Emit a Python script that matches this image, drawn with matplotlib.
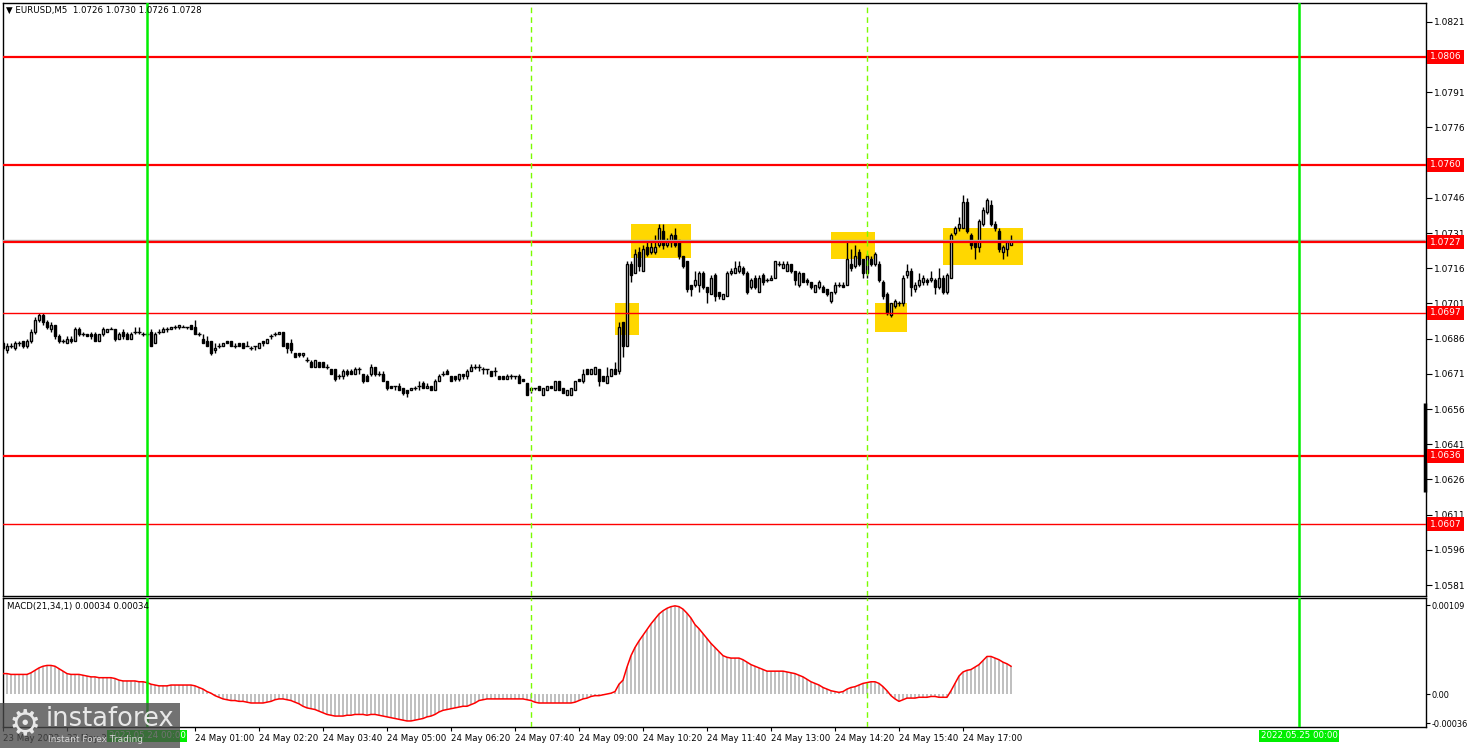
import matplotlib
matplotlib.use("Agg")
import matplotlib.pyplot as plt
from matplotlib.patches import Rectangle
from matplotlib.transforms import blended_transform_factory
import numpy as np

# ---------------- data (bar index 0 = 2022.05.24 00:00, M5 bars) ----------------
first_bar = -36
opens = [
    1.0684, 1.0681, 1.0683, 1.0682, 1.0684, 1.0685, 1.0683, 1.0685, 1.0689, 1.0694,
    1.0696, 1.0693, 1.0690, 1.0692, 1.0687, 1.0685, 1.0684, 1.0686, 1.0685, 1.0690,
    1.0688, 1.0688, 1.0688, 1.0688, 1.0685, 1.0688, 1.0689, 1.0690, 1.0690, 1.0686,
    1.0689, 1.0688, 1.0686, 1.0689, 1.0689, 1.0688, 1.0688, 1.0689, 1.0684, 1.0689,
    1.0689, 1.0690, 1.0690, 1.0691, 1.0691, 1.0691, 1.0691, 1.0692, 1.0691, 1.0688,
    1.0686, 1.0685, 1.0685, 1.0681, 1.0683, 1.0683, 1.0685, 1.0685, 1.0683, 1.0684,
    1.0684, 1.0683, 1.0682, 1.0683, 1.0682, 1.0685, 1.0684, 1.0687, 1.0688, 1.0688,
    1.0689, 1.0684, 1.0684, 1.0680, 1.0680, 1.0679, 1.0677, 1.0676, 1.0674, 1.0676,
    1.0676, 1.0674, 1.0673, 1.0673, 1.0670, 1.0670, 1.0672, 1.0672, 1.0671, 1.0673,
    1.0671, 1.0670, 1.0671, 1.0674, 1.0671, 1.0671, 1.0668, 1.0666, 1.0666, 1.0666,
    1.0665, 1.0664, 1.0664, 1.0665, 1.0666, 1.0667, 1.0665, 1.0666, 1.0664, 1.0668,
    1.0671, 1.0672, 1.0670, 1.0670, 1.0669, 1.0671, 1.0670, 1.0672, 1.0674, 1.0674,
    1.0673, 1.0673, 1.0672, 1.0672, 1.0670, 1.0670, 1.0669, 1.0670, 1.0670, 1.0670,
    1.0669, 1.0667, 1.0664, 1.0665, 1.0666, 1.0662, 1.0664, 1.0666, 1.0664, 1.0668,
    1.0665, 1.0662, 1.0662, 1.0664, 1.0669, 1.0668, 1.0673, 1.0671, 1.0671, 1.0673,
    1.0670, 1.0667, 1.0670, 1.0673, 1.0672, 1.0693, 1.0683, 1.0718, 1.0714, 1.0723,
    1.0715, 1.0725, 1.0723, 1.0723, 1.0726, 1.0732, 1.0726, 1.0727, 1.0730, 1.0728,
    1.0721, 1.0719, 1.0709, 1.0709, 1.0709, 1.0714, 1.0708, 1.0705, 1.0713, 1.0706,
    1.0703, 1.0704, 1.0714, 1.0714, 1.0715, 1.0716, 1.0714, 1.0708, 1.0712, 1.0706,
    1.0713, 1.0711, 1.0711, 1.0712, 1.0718, 1.0716, 1.0715, 1.0718, 1.0715, 1.0709,
    1.0714, 1.0711, 1.0710, 1.0706, 1.0708, 1.0708, 1.0707, 1.0702, 1.0706, 1.0709,
    1.0709, 1.0709, 1.0718, 1.0717, 1.0723, 1.0720, 1.0714, 1.0720, 1.0718, 1.0718,
    1.0710, 1.0705, 1.0696, 1.0700, 1.0701, 1.0701, 1.0713, 1.0715, 1.0707, 1.0709,
    1.0710, 1.0711, 1.0711, 1.0711, 1.0708, 1.0712, 1.0706, 1.0712, 1.0731, 1.0733,
    1.0733, 1.0744, 1.0730, 1.0727, 1.0725, 1.0735, 1.0740, 1.0743, 1.0735, 1.0732,
    1.0723, 1.0724, 1.0726,
]
highs = [
    1.0685, 1.0684, 1.0684, 1.0685, 1.0685, 1.0685, 1.0686, 1.0690, 1.0695, 1.0697,
    1.0697, 1.0694, 1.0693, 1.0692, 1.0688, 1.0686, 1.0687, 1.0687, 1.0691, 1.0691,
    1.0689, 1.0688, 1.0689, 1.0689, 1.0688, 1.0691, 1.0690, 1.0691, 1.0690, 1.0689,
    1.0690, 1.0689, 1.0689, 1.0691, 1.0691, 1.0689, 1.0689, 1.0690, 1.0689, 1.0690,
    1.0691, 1.0691, 1.0691, 1.0692, 1.0692, 1.0692, 1.0691, 1.0692, 1.0694, 1.0689,
    1.0688, 1.0687, 1.0685, 1.0684, 1.0684, 1.0684, 1.0685, 1.0685, 1.0684, 1.0684,
    1.0684, 1.0685, 1.0683, 1.0683, 1.0684, 1.0685, 1.0686, 1.0688, 1.0689, 1.0689,
    1.0689, 1.0684, 1.0686, 1.0680, 1.0680, 1.0680, 1.0678, 1.0677, 1.0677, 1.0676,
    1.0676, 1.0675, 1.0673, 1.0673, 1.0671, 1.0673, 1.0673, 1.0673, 1.0674, 1.0674,
    1.0671, 1.0671, 1.0675, 1.0674, 1.0672, 1.0672, 1.0668, 1.0666, 1.0666, 1.0667,
    1.0665, 1.0664, 1.0665, 1.0666, 1.0668, 1.0668, 1.0667, 1.0666, 1.0669, 1.0671,
    1.0672, 1.0673, 1.0670, 1.0670, 1.0671, 1.0671, 1.0673, 1.0675, 1.0675, 1.0675,
    1.0674, 1.0673, 1.0672, 1.0674, 1.0670, 1.0670, 1.0671, 1.0671, 1.0670, 1.0671,
    1.0669, 1.0667, 1.0665, 1.0665, 1.0666, 1.0665, 1.0666, 1.0666, 1.0668, 1.0668,
    1.0665, 1.0664, 1.0665, 1.0668, 1.0669, 1.0673, 1.0673, 1.0673, 1.0674, 1.0673,
    1.0670, 1.0674, 1.0673, 1.0676, 1.0693, 1.0693, 1.0719, 1.0719, 1.0724, 1.0725,
    1.0726, 1.0727, 1.0728, 1.0730, 1.0735, 1.0735, 1.0729, 1.0731, 1.0733, 1.0728,
    1.0721, 1.0719, 1.0709, 1.0715, 1.0715, 1.0715, 1.0708, 1.0713, 1.0714, 1.0706,
    1.0705, 1.0715, 1.0716, 1.0719, 1.0719, 1.0717, 1.0715, 1.0712, 1.0713, 1.0713,
    1.0714, 1.0712, 1.0713, 1.0719, 1.0719, 1.0719, 1.0719, 1.0718, 1.0715, 1.0715,
    1.0714, 1.0712, 1.0710, 1.0709, 1.0711, 1.0709, 1.0707, 1.0706, 1.0710, 1.0710,
    1.0710, 1.0728, 1.0724, 1.0726, 1.0724, 1.0720, 1.0722, 1.0721, 1.0723, 1.0719,
    1.0711, 1.0706, 1.0701, 1.0703, 1.0702, 1.0713, 1.0718, 1.0716, 1.0710, 1.0714,
    1.0713, 1.0712, 1.0715, 1.0712, 1.0716, 1.0713, 1.0714, 1.0731, 1.0734, 1.0738,
    1.0747, 1.0746, 1.0731, 1.0728, 1.0737, 1.0742, 1.0746, 1.0745, 1.0736, 1.0733,
    1.0726, 1.0728, 1.0730,
]
lows = [
    1.0681, 1.0680, 1.0682, 1.0681, 1.0683, 1.0682, 1.0682, 1.0684, 1.0688, 1.0693,
    1.0692, 1.0690, 1.0689, 1.0686, 1.0684, 1.0684, 1.0684, 1.0684, 1.0685, 1.0687,
    1.0687, 1.0687, 1.0686, 1.0685, 1.0685, 1.0687, 1.0689, 1.0690, 1.0685, 1.0686,
    1.0686, 1.0686, 1.0686, 1.0688, 1.0688, 1.0687, 1.0687, 1.0683, 1.0684, 1.0688,
    1.0689, 1.0689, 1.0690, 1.0690, 1.0690, 1.0691, 1.0690, 1.0690, 1.0688, 1.0687,
    1.0684, 1.0683, 1.0679, 1.0680, 1.0682, 1.0683, 1.0684, 1.0683, 1.0682, 1.0683,
    1.0682, 1.0683, 1.0681, 1.0681, 1.0682, 1.0683, 1.0684, 1.0686, 1.0687, 1.0688,
    1.0683, 1.0680, 1.0680, 1.0678, 1.0678, 1.0678, 1.0676, 1.0674, 1.0674, 1.0674,
    1.0674, 1.0673, 1.0671, 1.0668, 1.0669, 1.0669, 1.0670, 1.0671, 1.0671, 1.0671,
    1.0667, 1.0668, 1.0670, 1.0670, 1.0670, 1.0668, 1.0664, 1.0665, 1.0664, 1.0664,
    1.0662, 1.0661, 1.0664, 1.0664, 1.0664, 1.0665, 1.0665, 1.0664, 1.0664, 1.0668,
    1.0670, 1.0671, 1.0668, 1.0668, 1.0668, 1.0669, 1.0669, 1.0672, 1.0673, 1.0672,
    1.0671, 1.0671, 1.0670, 1.0670, 1.0669, 1.0669, 1.0669, 1.0669, 1.0669, 1.0667,
    1.0668, 1.0662, 1.0663, 1.0664, 1.0664, 1.0662, 1.0664, 1.0665, 1.0664, 1.0664,
    1.0663, 1.0662, 1.0662, 1.0664, 1.0668, 1.0667, 1.0671, 1.0671, 1.0671, 1.0666,
    1.0668, 1.0667, 1.0670, 1.0671, 1.0671, 1.0678, 1.0683, 1.0710, 1.0714, 1.0715,
    1.0715, 1.0721, 1.0722, 1.0722, 1.0725, 1.0724, 1.0725, 1.0725, 1.0725, 1.0720,
    1.0716, 1.0706, 1.0704, 1.0708, 1.0706, 1.0707, 1.0701, 1.0705, 1.0702, 1.0703,
    1.0703, 1.0704, 1.0713, 1.0714, 1.0714, 1.0713, 1.0705, 1.0707, 1.0707, 1.0706,
    1.0709, 1.0710, 1.0711, 1.0712, 1.0717, 1.0716, 1.0715, 1.0714, 1.0709, 1.0708,
    1.0710, 1.0709, 1.0707, 1.0706, 1.0707, 1.0706, 1.0704, 1.0701, 1.0705, 1.0708,
    1.0708, 1.0709, 1.0715, 1.0716, 1.0717, 1.0712, 1.0712, 1.0717, 1.0717, 1.0710,
    1.0703, 1.0696, 1.0695, 1.0699, 1.0700, 1.0700, 1.0712, 1.0704, 1.0706, 1.0708,
    1.0709, 1.0709, 1.0710, 1.0705, 1.0707, 1.0705, 1.0705, 1.0712, 1.0730, 1.0732,
    1.0733, 1.0731, 1.0724, 1.0720, 1.0723, 1.0734, 1.0739, 1.0734, 1.0732, 1.0723,
    1.0720, 1.0721, 1.0726,
]
closes = [
    1.0682, 1.0683, 1.0683, 1.0684, 1.0684, 1.0683, 1.0685, 1.0689, 1.0694, 1.0696,
    1.0693, 1.0691, 1.0692, 1.0687, 1.0685, 1.0685, 1.0686, 1.0685, 1.0690, 1.0688,
    1.0688, 1.0687, 1.0687, 1.0685, 1.0688, 1.0690, 1.0690, 1.0690, 1.0686, 1.0688,
    1.0687, 1.0686, 1.0688, 1.0689, 1.0689, 1.0688, 1.0688, 1.0683, 1.0688, 1.0689,
    1.0690, 1.0690, 1.0691, 1.0691, 1.0692, 1.0691, 1.0691, 1.0690, 1.0688, 1.0688,
    1.0684, 1.0683, 1.0680, 1.0682, 1.0683, 1.0684, 1.0684, 1.0683, 1.0683, 1.0683,
    1.0682, 1.0683, 1.0682, 1.0683, 1.0684, 1.0684, 1.0686, 1.0687, 1.0688, 1.0689,
    1.0683, 1.0682, 1.0681, 1.0678, 1.0679, 1.0680, 1.0677, 1.0674, 1.0677, 1.0674,
    1.0674, 1.0674, 1.0671, 1.0669, 1.0670, 1.0672, 1.0671, 1.0671, 1.0673, 1.0673,
    1.0668, 1.0668, 1.0674, 1.0671, 1.0671, 1.0668, 1.0665, 1.0665, 1.0666, 1.0664,
    1.0663, 1.0663, 1.0665, 1.0665, 1.0666, 1.0665, 1.0666, 1.0664, 1.0668, 1.0670,
    1.0671, 1.0671, 1.0668, 1.0669, 1.0671, 1.0670, 1.0672, 1.0674, 1.0674, 1.0674,
    1.0673, 1.0673, 1.0670, 1.0672, 1.0669, 1.0669, 1.0670, 1.0670, 1.0670, 1.0667,
    1.0668, 1.0662, 1.0665, 1.0665, 1.0664, 1.0665, 1.0666, 1.0665, 1.0668, 1.0664,
    1.0663, 1.0664, 1.0665, 1.0668, 1.0668, 1.0671, 1.0671, 1.0673, 1.0674, 1.0668,
    1.0668, 1.0670, 1.0673, 1.0671, 1.0691, 1.0683, 1.0718, 1.0713, 1.0722, 1.0717,
    1.0724, 1.0722, 1.0725, 1.0725, 1.0733, 1.0726, 1.0727, 1.0730, 1.0726, 1.0721,
    1.0717, 1.0707, 1.0707, 1.0711, 1.0714, 1.0708, 1.0706, 1.0712, 1.0704, 1.0704,
    1.0705, 1.0714, 1.0715, 1.0716, 1.0717, 1.0714, 1.0706, 1.0711, 1.0708, 1.0712,
    1.0710, 1.0711, 1.0712, 1.0719, 1.0718, 1.0718, 1.0718, 1.0715, 1.0711, 1.0714,
    1.0710, 1.0710, 1.0708, 1.0709, 1.0710, 1.0706, 1.0705, 1.0706, 1.0709, 1.0709,
    1.0708, 1.0720, 1.0716, 1.0721, 1.0718, 1.0714, 1.0721, 1.0718, 1.0722, 1.0711,
    1.0704, 1.0697, 1.0701, 1.0702, 1.0701, 1.0712, 1.0715, 1.0708, 1.0709, 1.0711,
    1.0712, 1.0710, 1.0712, 1.0708, 1.0712, 1.0706, 1.0713, 1.0730, 1.0733, 1.0735,
    1.0744, 1.0732, 1.0726, 1.0725, 1.0736, 1.0741, 1.0745, 1.0735, 1.0733, 1.0724,
    1.0725, 1.0727, 1.0728,
]
# MACD(21,34,1) values per bar, in units of 0.00001
macd_points = [
    25, 25, 24, 24, 24, 24, 24,
    26, 29, 32, 34, 35, 35, 34, 31, 28, 25,
    24, 24, 24, 23, 22, 21, 21, 20, 20, 20,
    20, 19, 17, 16, 16, 16, 16, 15, 15, 14,
    12, 11, 10, 10, 10, 11, 11, 11, 11, 11,
    11, 10, 8, 6, 3, 1, -2, -4, -6, -7,
    -8, -8, -9, -9, -10, -11, -11, -11, -11, -10,
    -9, -7, -6, -6, -7, -8, -10, -12, -15, -17,
    -18, -19, -21, -23, -25, -26, -27, -27, -27, -26,
    -26, -25, -25, -25, -26, -25, -25, -26, -27, -28,
    -29, -30, -31, -32, -33, -33, -32, -31, -30, -28,
    -27, -25, -22, -20, -19, -18, -17, -16, -15, -15,
    -13, -11, -8, -7, -6, -6, -6, -6, -6, -6,
    -6, -6, -6, -6, -7, -8, -10, -11, -11, -11,
    -11, -11, -11, -11, -11, -11, -10, -8, -6, -5,
    -3, -2, -2, -1, 0, 1, 3, 12, 17, 33,
    47, 57, 65, 72, 79, 86, 92, 98, 102, 105,
    107, 108, 107, 104, 99, 93, 85, 80, 74, 68,
    62, 57, 52, 47, 45, 44, 44, 44, 42, 39,
    36, 34, 32, 30, 28, 28, 28, 28, 28, 27,
    26, 25, 23, 21, 18, 15, 13, 11, 8, 6,
    4, 3, 2, 3, 6, 8, 9, 11, 13, 14,
    15, 15, 13, 9, 4, -2, -6, -9, -7, -5,
    -5, -5, -4, -4, -4, -3, -3, -4, -4, -4,
    4, 13, 22, 27, 29, 30, 33, 36, 41, 46,
    46, 44, 42, 39, 37, 34,
]

levels_thick = [1.0806, 1.0760, 1.0727, 1.0636]
levels_thin = [1.0697, 1.0607]
bid_price = 1.0728
day_line_bars = [0, 288]
day_line_labels = ["2022.05.24 00:00", "2022.05.25 00:00"]
session_line_bars = [96, 180]
box_start = [117.0, 121.0, 171.0, 182.0, 199.1]
box_end = [123.0, 135.9, 182.0, 189.9, 219.0]
box_low = [1.06875, 1.07205, 1.07199, 1.06889, 1.07174]
box_high = [1.07013, 1.07348, 1.07316, 1.07013, 1.07333]
price_ticks = [1.0581, 1.0596, 1.0611, 1.0626, 1.0641, 1.0656, 1.0671, 1.0686,
               1.0701, 1.0716, 1.0731, 1.0746, 1.0761, 1.0776, 1.0791, 1.0806, 1.0821]
price_tick_labels = ["1.0581", "1.0596", "1.0611", "1.0626", "1.0641", "1.0656",
                     "1.0671", "1.0686", "1.0701", "1.0716", "1.0731", "1.0746",
                     "", "1.0776", "1.0791", "", "1.0821"]
time_tick_bars = [-36, -20, 12, 28, 44, 60, 76, 92, 108, 124, 140, 156, 172, 188, 204]
time_tick_labels = ["23 May 2022", "23 May 22:20", "24 May 01:00",
                    "24 May 02:20", "24 May 03:40", "24 May 05:00", "24 May 06:20",
                    "24 May 07:40", "24 May 09:00", "24 May 10:20", "24 May 11:40",
                    "24 May 13:00", "24 May 14:20", "24 May 15:40", "24 May 17:00"]
macd_ticks = [0.00109, 0.0, -0.00036]
macd_tick_labels = ["0.00109", "0.00", "-0.00036"]
title_text = "\u25BC EURUSD,M5  1.0726 1.0730 1.0726 1.0728"
macd_text = "MACD(21,34,1) 0.00034 0.00034"

# ---------------- figure ----------------
W, H = 1468, 748
fig = plt.figure(figsize=(W / 100, H / 100), dpi=100)
fig.patch.set_facecolor("white")
plt.rcParams["font.family"] = ["DejaVu Sans"]

def fx(px):
    return px / W

def fy(py):
    return 1 - py / H

ax = fig.add_axes([fx(3), fy(596), fx(1426) - fx(3), fy(3) - fy(596)])
ax2 = fig.add_axes([fx(3), fy(727), fx(1426) - fx(3), fy(598) - fy(727)])

x0, x1 = -36, 319.75
for a in (ax, ax2):
    a.set_xlim(x0, x1)
    a.set_facecolor("white")
    for s in a.spines.values():
        s.set_color("black")
        s.set_linewidth(1.0)
ax.set_ylim(1.057632, 1.082901)
ax2.set_ylim(-0.000404, 0.001176)

idx = np.arange(first_bar, first_bar + len(closes))
o = np.array(opens); h = np.array(highs); l = np.array(lows); c = np.array(closes)

# yellow boxes
for s, e, lo, hi in zip(box_start, box_end, box_low, box_high):
    ax.add_patch(Rectangle((s, lo), e - s, hi - lo, facecolor="#FFD700",
                           edgecolor="none", zorder=1))

# candles
ax.vlines(idx, l, h, color="black", lw=1.0, zorder=3)
up = c > o + 1e-9
dn = c < o - 1e-9
dj = ~(up | dn)
ax.bar(idx[up], (c - o)[up], bottom=o[up], width=0.62, facecolor="white",
       edgecolor="black", linewidth=1.0, zorder=4)
ax.bar(idx[dn], (o - c)[dn], bottom=c[dn], width=0.62, facecolor="black",
       edgecolor="black", linewidth=1.0, zorder=4)
ax.hlines(o[dj], idx[dj] - 0.45, idx[dj] + 0.45, color="black", lw=1.0, zorder=4)

# horizontal levels
ax.axhline(bid_price, color="#b0b0b0", lw=1.0, zorder=5)
for lv in levels_thick:
    ax.axhline(lv, color="#FF0000", lw=1.6, zorder=6)
for lv in levels_thin:
    ax.axhline(lv, color="#FF0000", lw=1.0, zorder=6)

# vertical lines
for a in (ax, ax2):
    for b in session_line_bars:
        a.axvline(b, color="#7CFC00", lw=1.0, dashes=(4, 3), zorder=6)
    for b in day_line_bars:
        a.axvline(b, color="#00EE00", lw=1.8, zorder=7)

# price axis
ax.yaxis.tick_right()
ax.set_yticks(price_ticks)
ax.set_yticklabels(price_tick_labels)
ax.tick_params(axis="y", direction="out", length=4, width=0.8, pad=2,
               labelsize=6.5, colors="black")
ax.set_xticks([])

# black bar on price axis
ax.plot([x1 - 0.3, x1 - 0.3], [1.06206, 1.06586], color="black", lw=2.5,
        zorder=8, clip_on=False, solid_capstyle="butt")

# red level labels
ytr = ax.get_yaxis_transform()
for lv in levels_thick + levels_thin:
    ax.text(1.0025, lv, "%.4f" % lv, transform=ytr, ha="left", va="center",
            fontsize=6.5, color="white", zorder=20, clip_on=False,
            bbox=dict(boxstyle="square,pad=0.28", fc="#FF0000", ec="none"))

# title
fig.text(fx(6), fy(10), title_text, fontsize=6.2, ha="left", va="center", color="black")

# MACD panel
macd = np.array(macd_points) * 1e-5
ax2.bar(idx, macd, width=0.5, color="#C0C0C0", zorder=2)
ax2.plot(idx, macd, color="#FF0000", lw=1.1, zorder=3)
ax2.yaxis.tick_right()
ax2.set_yticks(macd_ticks)
ax2.set_yticklabels(macd_tick_labels)
ax2.tick_params(axis="y", direction="out", length=3, width=0.8, pad=1,
                labelsize=5.9, colors="black")
ax2.set_xticks(time_tick_bars)
ax2.set_xticklabels(time_tick_labels)
ax2.tick_params(axis="x", direction="out", length=3, width=0.8, pad=2,
                labelsize=6.2, colors="black")
for lab in ax2.get_xticklabels():
    lab.set_ha("left")
fig.text(fx(7), fy(607), macd_text, fontsize=6.2, ha="left", va="center", color="black")

# green date labels for the day lines
xtr = blended_transform_factory(ax2.transData, ax2.transAxes)
for b, t in zip(day_line_bars, day_line_labels):
    ax2.text(b, -0.068, t, transform=xtr, ha="center", va="center", fontsize=6.2,
             color="white", zorder=20, clip_on=False,
             bbox=dict(boxstyle="square,pad=0.2", fc="#00EE00", ec="none"))

# watermark
fig.add_artist(Rectangle((0, fy(748)), fx(180), fy(703) - fy(748),
                         transform=fig.transFigure, facecolor="#4a4a4a",
                         alpha=0.78, edgecolor="none", zorder=30))
fig.text(fx(25), fy(724), "\u2699", fontsize=26, ha="center", va="center",
         color="#e8e8e8", zorder=31)
fig.text(fx(46), fy(719), "instaforex", fontsize=18.5, ha="left", va="center",
         color="#e8e8e8", zorder=31)
fig.text(fx(48), fy(740), "Instant Forex Trading", fontsize=6.5, ha="left",
         va="center", color="#d8d8d8", zorder=31)

fig.savefig("out.png", dpi=100, facecolor="white")
